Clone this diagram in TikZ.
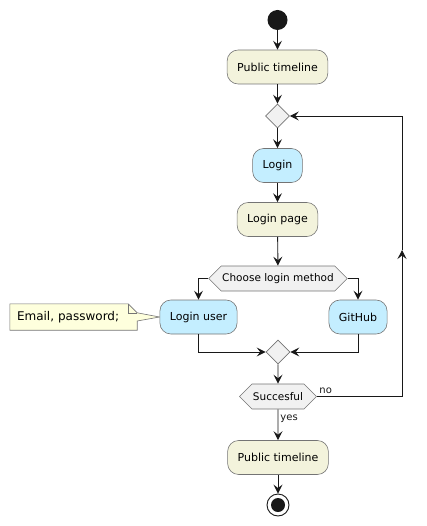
\documentclass[tikz,border=0pt]{standalone}
\usepackage{fontspec}
\setmainfont{DejaVu Sans}
\usepackage{xcolor}
\usepackage{tikz}
\usetikzlibrary{arrows.meta,positioning,shapes.geometric,shapes.symbols,backgrounds}
\definecolor{ink}{HTML}{181818}
\definecolor{beige}{HTML}{F3F3DC}
\definecolor{sky}{HTML}{C4EEFF}
\definecolor{pale}{HTML}{F1F1F1}
\definecolor{notey}{HTML}{FEFFDD}
\tikzset{
  act/.style={draw=ink!60, line width=0.6pt, rounded corners=11pt, fill=beige, minimum height=34pt, inner xsep=10pt, font=\fontsize{11}{13}\selectfont},
  actb/.style={act, fill=sky},
  merge/.style={diamond, draw=ink!60, line width=0.6pt, fill=pale, minimum width=24pt, minimum height=24pt, inner sep=0pt},
  hex/.style={signal, signal to=east and west, signal pointer angle=90, draw=ink!60, line width=0.6pt, fill=pale, minimum height=25pt, inner xsep=1pt, font=\fontsize{10.5}{12}\selectfont},
  notebox/.style={text width=113pt, inner xsep=7pt, inner ysep=0pt, minimum height=26pt, align=left, font=\fontsize{12}{14}\selectfont},
  noteline/.style={draw=ink!60, line width=0.6pt, fill=notey},
  flow/.style={-{Stealth[length=9pt, width=9pt, inset=3.5pt]}, draw=ink, line width=0.9pt},
  lbl/.style={font=\fontsize{10}{12}\selectfont, text=ink, inner sep=2pt},
  startdot/.style={circle, fill=ink, minimum size=20pt, inner sep=0pt},
  enddot/.style={circle, draw=ink, line width=0.9pt, fill=white, minimum size=22pt, inner sep=0pt,
    path picture={\fill[ink] (path picture bounding box.center) circle (7pt);}},
}

\begin{document}
\begin{tikzpicture}[x=1pt, y=-1pt]
\useasboundingbox (0,0) rectangle (426,526);
\node[startdot] (start) at (277.5,20) {};
\node[act] (pub) at (277.5,67) {Public timeline};
\node[merge] (loop) at (277.5,116) {};
\node[actb] (login) at (277.5,165.5) {Login};
\node[act] (page) at (277.5,219.5) {Login page};
\node[hex] (choose) at (278,278.5) {Choose login method};
\node[actb] (user) at (198.5,317) {Login user};
\node[actb] (github) at (358,317) {GitHub};
\node[notebox] (note) at (73.5,317) {Email, password;};
\node[merge] (join) at (278,352) {};
\node[hex] (ok) at (278,396.5) {Succesful};
\node[act] (pubend) at (278,457.5) {Public timeline};
\node[enddot] (stop) at (278,505) {};
\coordinate (back) at (402,396.5);
\coordinate (backmid) at (402,250);
\coordinate (backtop) at (402,116);

% note with folded corner
\begin{scope}[on background layer]
\path[noteline] (note.south west) -- (note.north west) -- ([xshift=-9pt]note.north east)
  -- ([yshift=-9pt]note.north east) -- (user.west) -- ([yshift=-4pt]note.east)
  -- (note.south east) -- cycle;
\draw[ink!60, line width=0.6pt] ([xshift=-9pt]note.north east) -- ++(0,9) -- ([yshift=-9pt]note.north east);
\end{scope}

\draw[flow] (start) -- (pub);
\draw[flow] (pub) -- (loop);
\draw[flow] (loop) -- (login);
\draw[flow] (login) -- (page);
\draw[flow] (page) -- (choose);
\draw[flow] (choose.west) -| (user.north);
\draw[flow] (choose.east) -| (github.north);
\draw[flow] (user.south) |- (join.west);
\draw[flow] (github.south) |- (join.east);
\draw[flow] (join) -- (ok);
\draw[flow] (ok) -- node[lbl, pos=0.1, anchor=north west]{yes} (pubend);
\draw[flow] (ok.east) -- node[lbl, pos=0, anchor=south west]{no} (back) -- (backmid);
\draw[flow] (backmid) -- (backtop) -- (loop.east);
\draw[flow] (pubend) -- (stop);
\end{tikzpicture}
\end{document}
